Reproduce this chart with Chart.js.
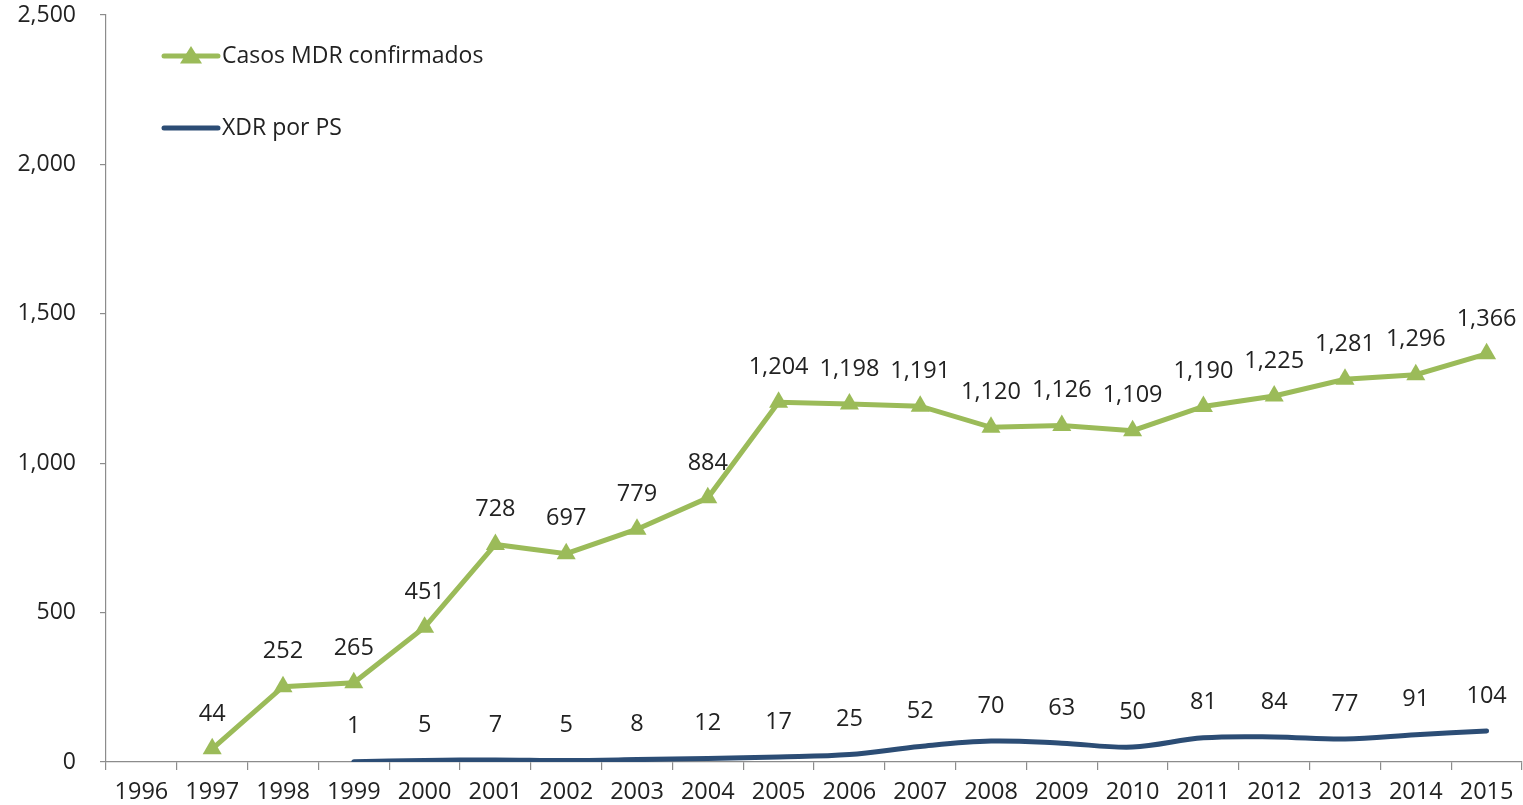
<!DOCTYPE html>
<html><head><meta charset="utf-8">
<style>html,body{margin:0;padding:0;background:#fff;overflow:hidden;}#wrap{width:1523px;height:805px;position:relative;}</style>
<script src="https://cdn.jsdelivr.net/npm/chart.js@4/dist/chart.umd.min.js"></script>
</head><body><div id="wrap"><canvas id="c" width="1523" height="805"></canvas></div>
<script>
const years = ['1996','1997','1998','1999','2000','2001','2002','2003','2004','2005','2006','2007','2008','2009','2010','2011','2012','2013','2014','2015'];
const mdrCases = [null,44,252,265,451,728,697,779,884,1204,1198,1191,1120,1126,1109,1190,1225,1281,1296,1366];
const xdrCases = [null,null,null,1,5,7,5,8,12,17,25,52,70,63,50,81,84,77,91,104];
const seriesNames = ['Casos MDR confirmados','XDR por PS'];
const yTicks = [0,500,1000,1500,2000,2500];

const FONT = '"Open Sans", sans-serif';
const GREEN = '#9BBB59', BLUE = '#2C4D75', TXT = '#222';

const labelPlugin = {
  id:'vals',
  afterDatasetsDraw(chart){
    const ctx = chart.ctx;
    ctx.save();
    ctx.font = '23.5px ' + FONT;
    ctx.fillStyle = TXT;
    ctx.textAlign = 'center';
    ctx.textBaseline = 'middle';
    chart.data.datasets.forEach((ds,i)=>{
      const meta = chart.getDatasetMeta(i);
      meta.data.forEach((pt,j)=>{
        const v = ds.data[j];
        if (v === null || v === undefined) return;
        ctx.fillText(v.toLocaleString('en-US'), pt.x, pt.y - 35);
      });
    });
    ctx.restore();
  }
};

const legendPlugin = {
  id:'customLegend',
  afterDraw(chart){
    const ctx = chart.ctx;
    const x0 = 164, x1 = 218;
    const rows = [{y:56,c:GREEN,tri:true},{y:128,c:BLUE,tri:false}];
    ctx.save();
    rows.forEach((r,i)=>{
      ctx.strokeStyle = r.c; ctx.lineWidth = 5; ctx.lineCap='round';
      ctx.beginPath(); ctx.moveTo(x0, r.y); ctx.lineTo(x1, r.y); ctx.stroke();
      if (r.tri){
        const cx=(x0+x1)/2, s=10;
        ctx.fillStyle = r.c; ctx.beginPath();
        ctx.moveTo(cx, r.y - s); ctx.lineTo(cx + s*1.1, r.y + s*0.75); ctx.lineTo(cx - s*1.1, r.y + s*0.75); ctx.closePath(); ctx.fill();
      }
      ctx.fillStyle = TXT; ctx.font = '23px ' + FONT; ctx.textAlign='left'; ctx.textBaseline='middle';
      ctx.fillText(seriesNames[i], x1 + 4, r.y);
    });
    ctx.restore();
  }
};

new Chart(document.getElementById('c'), {
  type:'line',
  data:{
    labels: years,
    datasets:[
      {label:seriesNames[0], data:mdrCases, borderColor:GREEN, backgroundColor:GREEN, borderWidth:5,
       pointStyle:'triangle', pointRadius:11, pointHoverRadius:11, pointBorderWidth:0, tension:0, spanGaps:false},
      {label:seriesNames[1], data:xdrCases, borderColor:BLUE, backgroundColor:BLUE, borderWidth:5,
       pointRadius:0, pointHoverRadius:0, tension:0.35, borderCapStyle:'round'}
    ]
  },
  options:{
    responsive:false, animation:false, maintainAspectRatio:false,
    layout:{autoPadding:false, padding:{top:15,right:1,left:2,bottom:0}},
    plugins:{legend:{display:false}, tooltip:{enabled:false}},
    scales:{
      x:{
        offset:true,
        grid:{offset:true, drawOnChartArea:false, drawTicks:true, tickLength:8, color:'#8c8c8c', lineWidth:1.2},
        border:{display:true, color:'#8c8c8c', width:1.2},
        ticks:{font:{family:FONT,size:23.5}, color:TXT, padding:8, maxRotation:0, autoSkip:false},
        afterFit(s){ s.height = 43; s.paddingLeft = 0; s.paddingRight = 0; }
      },
      y:{
        min:0, max:2500,
        afterBuildTicks(s){ s.ticks = yTicks.map(v=>({value:v})); },
        grid:{drawOnChartArea:false, drawTicks:true, tickLength:6, color:'#8c8c8c', lineWidth:1.2},
        border:{display:true, color:'#8c8c8c', width:1.2},
        ticks:{font:{family:FONT,size:23}, color:TXT, padding:24, callback:v=>v.toLocaleString('en-US')},
        afterFit(s){ s.width = 104; s.paddingTop = 0; s.paddingBottom = 0; }
      }
    }
  },
  plugins:[labelPlugin, legendPlugin]
});
</script></body></html>
